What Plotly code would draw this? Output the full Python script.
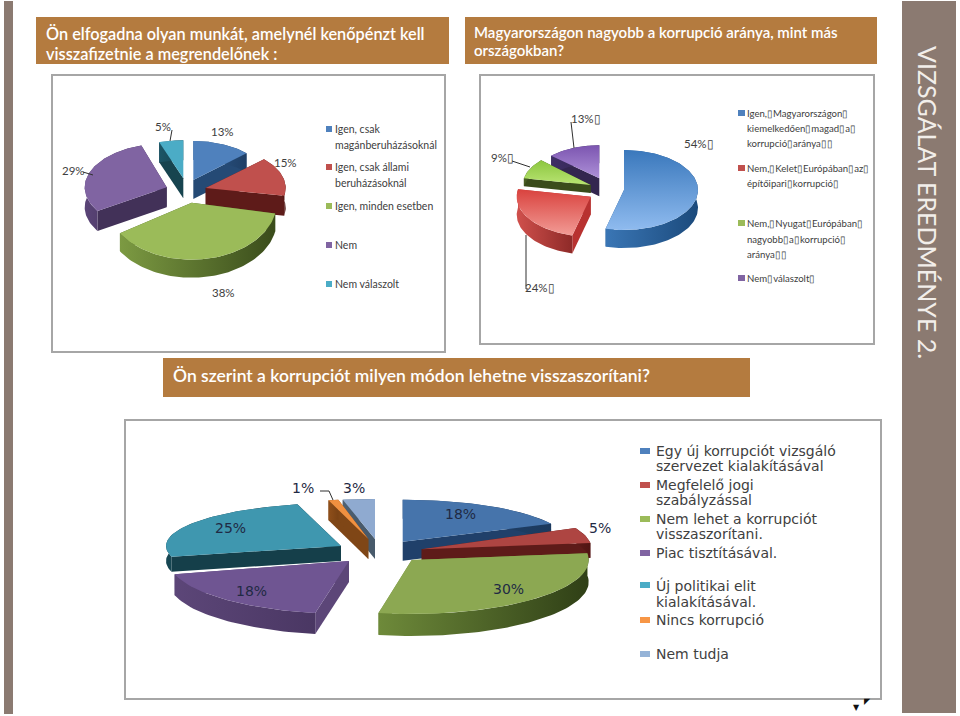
import math
import plotly.graph_objects as go

# ---------- data ----------
c1_values = [13, 15, 38, 29, 5]
c1_labels = ["13%", "15%", "38%", "29%", "5%"]
c2_values = [54, 24, 9, 13]
c2_labels = ["54%▯", "24%▯", "9%▯", "13%▯"]
c3_values = [18, 5, 30, 18, 25, 1, 3]
c3_labels = ["18%", "5%", "30%", "18%", "25%", "1%", "3%"]

c1_legend = [["Igen, csak", "magánberuházásoknál"], ["Igen, csak állami", "beruházásoknál"],
             ["Igen, minden esetben"], ["Nem"], ["Nem válaszolt"]]
c2_legend = [["Igen,▯Magyarországon▯", "kiemelkedően▯magad▯a▯", "korrupció▯aránya▯▯"],
             ["Nem,▯Kelet▯Európában▯az▯", "építőipari▯korrupció▯"],
             ["Nem,▯Nyugat▯Európában▯", "nagyobb▯a▯korrupció▯", "aránya▯▯"],
             ["Nem▯válaszolt▯"]]
c3_legend = [["Egy új korrupciót vizsgáló", "szervezet kialakításával"], ["Megfelelő jogi", "szabályzással"],
             ["Nem lehet a korrupciót", "visszaszorítani."], ["Piac tisztításával."],
             ["Új politikai elit", "kialakításával."], ["Nincs korrupció"], ["Nem tudja"]]

header_1 = ["Ön elfogadna olyan munkát, amelynél kenőpénzt kell", "visszafizetnie a megrendelőnek :"]
header_2 = ["Magyarországon nagyobb a korrupció aránya, mint más", "országokban?"]
header_3 = "Ön szerint a korrupciót milyen módon lehetne visszaszorítani?"
side_title = "VIZSGÁLAT EREDMÉNYE 2."

# ---------- styles: top light, top dark, rim left, rim right, radial face ----------
BLUE = ("#4F81BD", "#4F81BD", "#2F5C8F", "#1F3F66", "#254A75")
RED = ("#C0504D", "#C0504D", "#6B1F1D", "#501513", "#5E1B19")
GREEN = ("#9BBB59", "#9BBB59", "#7C9A42", "#3A4C1B", "#4A5F24")
PURPLE = ("#8064A2", "#8064A2", "#5A4477", "#3E2E55", "#423158")
TEAL = ("#4BACC6", "#4BACC6", "#1C5566", "#16434F", "#17444F")

c1_geo = [(193.3, 180, 73, 39, 19), (205.7, 188, 80, 42, 20), (191.7, 202.7, 85, 57, 18),
          (166.7, 187.3, 82, 44, 20), (183.3, 178.3, 78, 38, 20)]
c1_cols = [BLUE, RED, GREEN, PURPLE, TEAL]
c1_order = [4, 0, 3, 1, 2]

c2_geo = [(624, 190, 74, 40, 18), (590.7, 196.7, 74, 40, 18), (590.7, 185, 68, 36, 8), (599.3, 178.3, 66, 33, 18)]
c2_cols = [("#8FBBEF", "#3A78BC", "#3A76B5", "#1B4A7C", "#235A94"),
           ("#F29C96", "#D9423E", "#D0504C", "#8E2A28", "#B83230"),
           ("#B9E473", "#8CC63F", "#4A5F24", "#35461A", "#3A4C1B"),
           ("#AD90D8", "#7C55B0", "#3E2E65", "#33264F", "#33264F")]
c2_order = [3, 2, 1, 0]

c3_geo = [(402.7, 541.7, 164, 42, 19), (421.7, 549.3, 170, 50, 15), (411.7, 560, 177, 54, 22),
          (349, 561, 180, 53, 21), (341, 546, 175, 43, 15), (368.3, 539, 160, 40, 20), (375, 539, 172, 40, 20)]
c3_cols = [("#4674AB", "#4674AB", "#22446E", "#1C3A5E", "#20406A"),
           ("#AE4542", "#AE4542", "#5E1B19", "#501513", "#5E1B19"),
           ("#8CA852", "#8CA852", "#6E8A3A", "#2F3F16", "#6E8A3A"),
           ("#6F5592", "#6F5592", "#5C4678", "#4A3763", "#5C4678"),
           ("#3F97AF", "#3F97AF", "#174753", "#143E49", "#153F4A"),
           ("#F09040", "#F09040", "#8F4F1A", "#7A4214", "#7F4616"),
           ("#8FAAD0", "#8FAAD0", "#4F6274", "#3F4F5E", "#485A6B")]
c3_order = [6, 5, 0, 1, 4, 3, 2]

PANELS = [(52, 75, 445, 352), (480, 75, 874, 344), (125, 420, 881, 699)]
HEADERS = [(36, 17, 449, 64), (465, 17, 877, 64), (163, 358, 750, 397)]
BROWN = "#B47B3F"
BAND = "#8B7A71"
BODY = "Lato"

fig = go.Figure()


def poly(xs, ys, c0, c1, kind):
    if c0 == c1:
        extra = dict(fillcolor=c0)
    else:
        extra = dict(fillgradient=dict(type=kind, colorscale=[[0, c0], [1, c1]]))
    fig.add_trace(go.Scatter(x=xs, y=ys, mode="lines", fill="toself", line=dict(width=0),
                             hoverinfo="skip", showlegend=False, **extra))


def draw_pie(values, geo, cols, order):
    total = sum(values)
    spans = []
    acc = 0
    for v in values:
        spans.append((acc / total * 2 * math.pi, (acc + v) / total * 2 * math.pi))
        acc += v
    for i in order:
        t0, t1 = spans[i]
        ax, ay, rx, ry, d = geo[i]
        top0, top1, rim0, rim1, face = cols[i]
        n = max(12, int((t1 - t0) / 0.03))
        ts = [t0 + (t1 - t0) * k / n for k in range(n + 1)]
        px = [ax + rx * math.sin(t) for t in ts]
        py = [ay - ry * math.cos(t) for t in ts]
        poly([ax, px[0], px[0], ax, ax], [ay, py[0], py[0] + d, ay + d, ay], face, face, "none")
        poly([ax, px[-1], px[-1], ax, ax], [ay, py[-1], py[-1] + d, ay + d, ay], face, face, "none")
        poly(px + px[::-1] + [px[0]], py + [y + d for y in py[::-1]] + [py[0]], rim0, rim1, "horizontal")
        poly([ax] + px + [ax], [ay] + py + [ay], top0, top1, "vertical")


draw_pie(c1_values, c1_geo, c1_cols, c1_order)
draw_pie(c2_values, c2_geo, c2_cols, c2_order)
draw_pie(c3_values, c3_geo, c3_cols, c3_order)

shapes = []
ann = []


def rect(x0, y0, x1, y1, fill, line=None, width=0, layer="below"):
    shapes.append(dict(type="rect", xref="x", yref="y", x0=x0, y0=y0, x1=x1, y1=y1, fillcolor=fill,
                       line=dict(color=line or fill, width=width), layer=layer))


def text(x, y, s, size, color, family=BODY, anchor="left", angle=0, weight=400):
    ann.append(dict(x=x - 2 if anchor == "left" else x, y=y, xref="x", yref="y", text=s, showarrow=False,
                    xanchor=anchor, yanchor="middle", textangle=angle,
                    font=dict(size=size, color=color, family=family, weight=weight)))


def leader(pts):
    for (a, b), (c, e) in zip(pts, pts[1:]):
        shapes.append(dict(type="line", xref="x", yref="y", x0=a, y0=b, x1=c, y1=e,
                           line=dict(color="#303030", width=1), layer="above"))


rect(4, 1, 13, 714, BAND)
rect(902, 1, 956, 713, BAND)
for p in PANELS:
    rect(p[0], p[1], p[2], p[3], "#FFFFFF", "#A6A6A6", 2)
for h in HEADERS:
    rect(h[0], h[1], h[2], h[3], BROWN)

text(46, 33, header_1[0], 16.3, "#FFFFFF", weight=600)
text(46, 53, header_1[1], 16.3, "#FFFFFF", weight=600)
text(474, 32, header_2[0], 15, "#FFFFFF", weight=600)
text(474, 50, header_2[1], 15, "#FFFFFF", weight=600)
text(173, 375, header_3, 17.5, "#FFFFFF", weight=600)
text(928, 202, side_title, 25, "#F2EEEA", angle=90, anchor="center")

c1_lpos = [(222, 131), (285, 162), (223, 292), (73, 170), (163, 126)]
for (x, y), s in zip(c1_lpos, c1_labels):
    text(x, y, s, 11.5, "#404040", anchor="center")
leader([(83, 172), (93, 175)])
leader([(172, 130), (170, 141)])

c1_ly = [[129, 145], [167, 183], [206], [245], [284]]
for lines, ys, col in zip(c1_legend, c1_ly, c1_cols):
    rect(326, ys[0] - 3, 332, ys[0] + 3, col[0], layer="above")
    for s, y in zip(lines, ys):
        text(335, y, s, 10.5, "#404040")

c2_lpos = [(699, 143), (540, 287), (502, 157), (586, 118)]
for (x, y), s in zip(c2_lpos, c2_labels):
    text(x, y, s, 11.5, "#404040", anchor="center")
leader([(571, 122), (574, 148)])
leader([(512, 161), (530, 167)])
leader([(526, 235), (526, 289), (528, 289)])

c2_ly = [[113, 128, 143], [168, 183], [223, 239, 254], [278]]
c2_keys = ["#4F81BD", "#C0504D", "#9BBB59", "#8064A2"]
for lines, ys, col in zip(c2_legend, c2_ly, c2_keys):
    rect(738, ys[0] - 3, 745, ys[0] + 3, col, layer="above")
    for s, y in zip(lines, ys):
        text(747, y, s, 9.6, "#404040")

c3_lpos = [(460, 514), (600, 528), (508, 589), (251, 591), (230, 528), (303, 488), (354, 488)]
for (x, y), s in zip(c3_lpos, c3_labels):
    text(x, y, s, 14, "#1F2A44", family="DejaVu Sans", anchor="center")
leader([(320, 491), (329, 491), (333, 500)])

c3_ly = [[451, 466], [485, 500], [519, 534], [553], [585, 602], [620], [654]]
c3_keys = ["#4F81BD", "#C0504D", "#9BBB59", "#8064A2", "#4BACC6", "#F79646", "#95B3D7"]
for lines, ys, col in zip(c3_legend, c3_ly, c3_keys):
    rect(640, ys[0] - 3, 650, ys[0] + 3, col, layer="above")
    for s, y in zip(lines, ys):
        text(656, y, s, 14, "#404040", family="DejaVu Sans")

text(856, 707, "▼", 8, "#111111", family="DejaVu Sans", anchor="center")
text(867, 701, "◤", 8, "#111111", family="DejaVu Sans", anchor="center")

fig.update_layout(
    width=960, height=716, margin=dict(l=0, r=0, t=0, b=0), autosize=False,
    paper_bgcolor="#FFFFFF", plot_bgcolor="#FFFFFF", showlegend=False,
    xaxis=dict(range=[0, 960], visible=False, fixedrange=True),
    yaxis=dict(range=[716, 0], visible=False, fixedrange=True),
    shapes=shapes, annotations=ann,
)
fig.write_html("out.html", config=dict(displayModeBar=False),
               post_script="document.body.style.margin='0';document.body.style.overflow='hidden';")
